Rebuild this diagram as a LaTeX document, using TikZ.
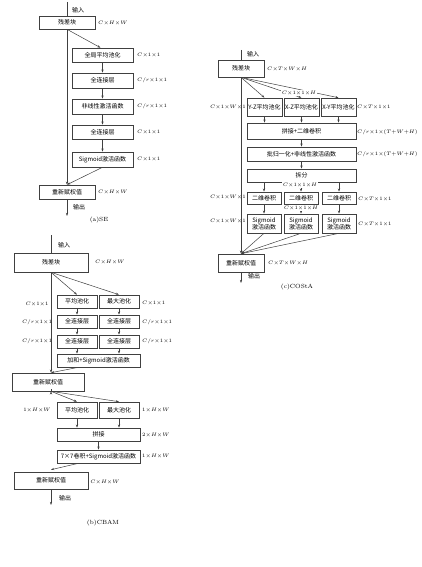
\documentclass[tikz,border=0pt]{standalone}
\usepackage{fontspec}
\newfontfamily\cjk{Noto Sans CJK SC}
\usetikzlibrary{arrows.meta, positioning, calc}

\begin{document}
\begin{tikzpicture}[
	x=1pt, y=-1pt,
	>={Stealth[length=3.2pt, width=2.2pt]},
	box/.style={draw=black!75, line width=0.6pt, inner sep=0pt, align=center, font=\cjk\fontsize{6pt}{7pt}\selectfont},
	dim/.style={inner sep=0pt, font=\fontsize{5.5pt}{6pt}\selectfont},
	tag/.style={inner sep=0pt, font=\cjk\fontsize{6pt}{7pt}\selectfont},
	caption/.style={inner sep=0pt, font=\fontsize{6pt}{7pt}\selectfont},
	line/.style={draw=black!75, line width=0.5pt},
	arrow/.style={->, draw=black!75, line width=0.5pt}
	]
	
	\useasboundingbox (0,0) rectangle (422,567);
	
	% (a) SE
	\node[box, minimum width=56pt, minimum height=13pt] (res_a) at (67,22.5) {残差块};
	\node[box, minimum width=61pt, minimum height=14pt] (gap_a) at (102.5,55) {全局平均池化};
	\node[box, minimum width=61pt, minimum height=15pt] (fc1_a) at (102.5,80.5) {全连接层};
	\node[box, minimum width=61pt, minimum height=15pt] (act_a) at (102.5,106.5) {非线性激活函数};
	\node[box, minimum width=61pt, minimum height=14pt] (fc2_a) at (102.5,132) {全连接层};
	\node[box, minimum width=61pt, minimum height=15pt] (sig_a) at (102.5,159.5) {Sigmoid激活函数};
	\node[box, minimum width=56pt, minimum height=14pt] (rew_a) at (67,192) {重新赋权值};
	\coordinate (in_a) at (67,2);
	\coordinate (out_a) at (67,216);
	
	\draw[line] (in_a) -- (res_a);
	\draw[arrow] (res_a) -- (rew_a);
	\draw[arrow] (res_a.south) -- ([xshift=-2pt]gap_a.north);
	\draw[arrow] (gap_a) -- (fc1_a);
	\draw[arrow] (fc1_a) -- (act_a);
	\draw[arrow] (act_a) -- (fc2_a);
	\draw[arrow] (fc2_a) -- (sig_a);
	\draw[arrow] (sig_a.south) -- (rew_a.north);
	\draw[arrow] (rew_a) -- (out_a);
	
	\node[tag, anchor=west] (tin_a) at (72,10) {输入};
	\node[tag, anchor=west] (tout_a) at (73,207) {输出};
	\node[dim, anchor=west] (d_res_a) at (98,23) {$C{\times}H{\times}W$};
	\node[dim, anchor=west] (d_gap_a) at (137,55) {$C{\times}1{\times}1$};
	\node[dim, anchor=west] (d_fc1_a) at (137,80.5) {$C/r{\times}1{\times}1$};
	\node[dim, anchor=west] (d_act_a) at (137,106.5) {$C/r{\times}1{\times}1$};
	\node[dim, anchor=west] (d_fc2_a) at (137,132) {$C{\times}1{\times}1$};
	\node[dim, anchor=west] (d_sig_a) at (137,159.5) {$C{\times}1{\times}1$};
	\node[dim, anchor=west] (d_rew_a) at (98,192) {$C{\times}H{\times}W$};
	\node[caption] (cap_a) at (99,220) {(a)SE};
	
	% (b) CBAM
	\node[box, minimum width=74pt, minimum height=19pt] (res_b) at (51,262.5) {残差块};
	\node[box, minimum width=40pt, minimum height=13pt] (avg_b1) at (77,301.5) {平均池化};
	\node[box, minimum width=40pt, minimum height=13pt] (max_b1) at (119,301.5) {最大池化};
	\node[box, minimum width=40pt, minimum height=13pt] (fca_b1) at (77,321.5) {全连接层};
	\node[box, minimum width=40pt, minimum height=13pt] (fcb_b1) at (119,321.5) {全连接层};
	\node[box, minimum width=40pt, minimum height=13pt] (fca_b2) at (77,341.5) {全连接层};
	\node[box, minimum width=40pt, minimum height=13pt] (fcb_b2) at (119,341.5) {全连接层};
	\node[box, minimum width=83pt, minimum height=13pt] (sum_b) at (98.5,360.5) {加和+Sigmoid激活函数};
	\node[box, minimum width=72pt, minimum height=18pt] (rew_b1) at (48,382) {重新赋权值};
	\node[box, minimum width=40pt, minimum height=16pt] (avg_b2) at (77,410) {平均池化};
	\node[box, minimum width=40pt, minimum height=16pt] (max_b2) at (119,410) {最大池化};
	\node[box, minimum width=83pt, minimum height=13pt] (cat_b) at (98.5,434.5) {拼接};
	\node[box, minimum width=83pt, minimum height=13pt] (conv_b) at (98.5,456.5) {7×7卷积+Sigmoid激活函数};
	\node[box, minimum width=74pt, minimum height=17pt] (rew_b2) at (51,480.5) {重新赋权值};
	\coordinate (in_b) at (51,235);
	\coordinate (out_b) at (51,505);
	
	\draw[line] (in_b) -- (res_b);
	\draw[arrow] (res_b.south) -- (res_b.south |- rew_b1.north);
	\draw[arrow] (res_b.south) -- (avg_b1.north);
	\draw[arrow] (res_b.south) -- (max_b1.north);
	\draw[arrow] (avg_b1) -- (fca_b1);
	\draw[arrow] (max_b1) -- (fcb_b1);
	\draw[arrow] (fca_b1) -- (fca_b2);
	\draw[arrow] (fcb_b1) -- (fcb_b2);
	\draw[arrow] (fca_b2.south) -- (fca_b2.south |- sum_b.north);
	\draw[arrow] (fcb_b2.south) -- (fcb_b2.south |- sum_b.north);
	\draw[arrow] ([xshift=-20pt]sum_b.south) -- (res_b.south |- rew_b1.north);
	\draw[arrow] (rew_b1.south -| res_b.south) -- (rew_b1.south -| res_b.south |- rew_b2.north);
	\draw[arrow] (rew_b1.south -| res_b.south) -- (avg_b2.north);
	\draw[arrow] (rew_b1.south -| res_b.south) -- (max_b2.north);
	\draw[arrow] (avg_b2.south) -- (avg_b2.south |- cat_b.north);
	\draw[arrow] (max_b2.south) -- (max_b2.south |- cat_b.north);
	\draw[arrow] (cat_b) -- (conv_b);
	\draw[arrow] ([xshift=-20pt]conv_b.south) -- ([yshift=2pt]rew_b2.north);
	\draw[arrow] (rew_b2) -- (out_b);
	
	\node[tag] (tin_b) at (64,245) {输入};
	\node[tag] (tout_b) at (65,498) {输出};
	\node[dim, anchor=west] (d_res_b) at (95,262) {$C{\times}H{\times}W$};
	\node[dim] (d_avg_b1) at (37,304) {$C{\times}1{\times}1$};
	\node[dim] (d_fca_b1) at (37,322) {$C/r{\times}1{\times}1$};
	\node[dim] (d_fca_b2) at (37,341) {$C/r{\times}1{\times}1$};
	\node[dim, anchor=west] (d_max_b1) at (142,303) {$C{\times}1{\times}1$};
	\node[dim, anchor=west] (d_fcb_b1) at (142,322) {$C/r{\times}1{\times}1$};
	\node[dim, anchor=west] (d_fcb_b2) at (142,341) {$C/r{\times}1{\times}1$};
	\node[dim] (d_avg_b2) at (37,410) {$1{\times}H{\times}W$};
	\node[dim, anchor=west] (d_max_b2) at (142,410) {$1{\times}H{\times}W$};
	\node[dim, anchor=west] (d_cat_b) at (142,435) {$2{\times}H{\times}W$};
	\node[dim, anchor=west] (d_conv_b) at (142,456) {$1{\times}H{\times}W$};
	\node[dim] (d_rew_b2) at (105,482) {$C{\times}H{\times}W$};
	\node[caption] (cap_b) at (103,523) {(b)CBAM};
	
	% (c) COStA
	\node[box, minimum width=46pt, minimum height=17pt] (res_c) at (241,68.5) {残差块};
	\node[box, minimum width=35pt, minimum height=18pt] (yz_c) at (264.5,107) {\textit{Y-Z}平均池化};
	\node[box, minimum width=35pt, minimum height=18pt] (xz_c) at (301.5,107) {\textit{X-Z}平均池化};
	\node[box, minimum width=35pt, minimum height=18pt] (xy_c) at (338.5,107) {\textit{X-Y}平均池化};
	\node[box, minimum width=109pt, minimum height=16pt] (cat_c) at (301.5,131) {拼接+二维卷积};
	\node[box, minimum width=109pt, minimum height=14pt] (bn_c) at (301.5,154) {批归一化+非线性激活函数};
	\node[box, minimum width=109pt, minimum height=13pt] (split_c) at (301.5,175.5) {拆分};
	\node[box, minimum width=34pt, minimum height=12pt] (conv_c1) at (264,198) {二维卷积};
	\node[box, minimum width=34pt, minimum height=12pt] (conv_c2) at (301,198) {二维卷积};
	\node[box, minimum width=34pt, minimum height=12pt] (conv_c3) at (339,198) {二维卷积};
	\node[box, minimum width=34pt, minimum height=19pt] (sig_c1) at (264,223.5) {Sigmoid\\激活函数};
	\node[box, minimum width=34pt, minimum height=19pt] (sig_c2) at (301,223.5) {Sigmoid\\激活函数};
	\node[box, minimum width=34pt, minimum height=19pt] (sig_c3) at (339,223.5) {Sigmoid\\激活函数};
	\node[box, minimum width=46pt, minimum height=18pt] (rew_c) at (241,263) {重新赋权值};
	\coordinate (in_c) at (241,50);
	\coordinate (out_c) at (241,283);
	
	\draw[line] (in_c) -- (res_c);
	\draw[arrow] (res_c) -- (rew_c);
	\draw[arrow] (res_c.south) -- (yz_c.north);
	\draw[arrow] (res_c.south) -- (xz_c.north);
	\draw[arrow] (res_c.south) -- (xy_c.north);
	\draw[arrow] (yz_c) -- (yz_c |- cat_c.north);
	\draw[arrow] (xz_c) -- (xz_c |- cat_c.north);
	\draw[arrow] (xy_c) -- (xy_c |- cat_c.north);
	\draw[arrow] (cat_c) -- (bn_c);
	\draw[arrow] (bn_c) -- (split_c);
	\draw[arrow] (conv_c1 |- split_c.south) -- (conv_c1);
	\draw[arrow] (conv_c2 |- split_c.south) -- (conv_c2);
	\draw[arrow] (conv_c3 |- split_c.south) -- (conv_c3);
	\draw[arrow] (conv_c1) -- (sig_c1);
	\draw[arrow] (conv_c2) -- (sig_c2);
	\draw[arrow] (conv_c3) -- (sig_c3);
	\draw[arrow] (sig_c1.south) -- (rew_c.north);
	\draw[arrow] (sig_c2.south) -- (rew_c.north);
	\draw[arrow] (sig_c3.south) -- (rew_c.north);
	\draw[arrow] (rew_c) -- (out_c);
	
	\node[tag] (tin_c) at (253,54) {输入};
	\node[tag] (tout_c) at (254,276) {输出};
	\node[dim, anchor=west] (d_res_c) at (267,69) {$C{\times}T{\times}W{\times}H$};
	\node[dim, fill=white, inner sep=0.5pt] (d_pool_c) at (299,93) {$C{\times}1{\times}1{\times}H$};
	\node[dim, anchor=east] (d_yz_c) at (246,107) {$C{\times}1{\times}W{\times}1$};
	\node[dim, anchor=west] (d_xy_c) at (357,107) {$C{\times}T{\times}1{\times}1$};
	\node[dim, anchor=west] (d_cat_c) at (357,132) {$C/r{\times}1{\times}(T{+}W{+}H)$};
	\node[dim, anchor=west] (d_bn_c) at (357,154) {$C/r{\times}1{\times}(T{+}W{+}H)$};
	\node[dim, fill=white, inner sep=0.5pt] (d_split_c) at (300,185) {$C{\times}1{\times}1{\times}H$};
	\node[dim, anchor=east] (d_conv_c1) at (246,197) {$C{\times}1{\times}W{\times}1$};
	\node[dim, fill=white, inner sep=0.5pt] (d_conv_c2) at (301,208) {$C{\times}1{\times}1{\times}H$};
	\node[dim, anchor=west] (d_conv_c3) at (358,199) {$C{\times}T{\times}1{\times}1$};
	\node[dim, anchor=east] (d_sig_c1) at (246,221) {$C{\times}1{\times}W{\times}1$};
	\node[dim, anchor=west] (d_sig_c3) at (358,224) {$C{\times}T{\times}1{\times}1$};
	\node[dim, anchor=west] (d_rew_c) at (268,263) {$C{\times}T{\times}W{\times}H$};
	\node[caption] (cap_c) at (297,287) {(c)COStA};
	
\end{tikzpicture}
\end{document}
